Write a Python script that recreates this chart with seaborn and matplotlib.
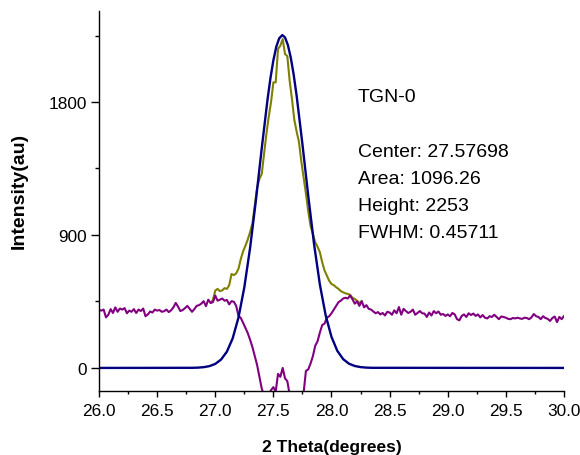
import numpy as np
import pandas as pd
import matplotlib
matplotlib.use("Agg")
import matplotlib.pyplot as plt
import seaborn as sns
from matplotlib.ticker import MultipleLocator

# residual / background trace (purple), sampled every 0.02 deg from 26.00 to 30.00
resid_vals = [
    392, 388, 395, 342, 360, 398, 372, 410, 380, 402,
    395, 405, 370, 388, 380, 398, 372, 395, 385, 402,
    350, 362, 382, 375, 395, 388, 392, 380, 384, 395,
    378, 390, 410, 440, 415, 385, 392, 405, 420, 400,
    380, 398, 420, 425, 435, 452, 418, 462, 440, 445,
    490, 455, 462, 470, 455, 460, 430, 452, 448, 420,
    352, 338, 305, 270, 235, 190, 140, 80, 20, -60,
    -140, -190, -200, -180, -150, -130, -160, -40, -60, 0,
    -70, -90, -180, -250, -300, -320, -300, -250, -170, -20,
    -10, 30, 80, 150, 180, 240, 290, 300, 340, 350,
    370, 395, 420, 445, 455, 470, 475, 470, 490, 465,
    435, 450, 420, 452, 410, 425, 400, 395, 382, 370,
    378, 362, 372, 355, 380, 375, 360, 390, 370, 412,
    360, 400, 385, 372, 380, 395, 360, 372, 385, 370,
    368, 345, 375, 355, 385, 370, 382, 360, 365, 352,
    362, 350, 372, 362, 330, 322, 352, 362, 345, 370,
    358, 368, 352, 362, 342, 358, 340, 335, 350, 345,
    360, 345, 330, 348, 345, 340, 332, 330, 338, 335,
    340, 335, 332, 340, 338, 330, 342, 365, 350, 345,
    330, 350, 338, 332, 318, 338, 348, 310, 345, 330,
    352,
]
resid_x = np.round(np.linspace(26.0, 30.0, len(resid_vals)), 2)

# measured data (olive), only where it differs from the purple trace
data_x = [
    26.96, 26.98, 27.00, 27.02, 27.04, 27.06, 27.08, 27.10, 27.12, 27.14,
    27.16, 27.18, 27.20, 27.22, 27.24, 27.26, 27.28, 27.30, 27.32, 27.34,
    27.36, 27.38, 27.40, 27.42, 27.44, 27.46, 27.48, 27.50, 27.52, 27.54,
    27.56, 27.58, 27.60, 27.62, 27.64, 27.66, 27.68, 27.70, 27.72, 27.74,
    27.76, 27.78, 27.80, 27.82, 27.84, 27.86, 27.88, 27.90, 27.92, 27.94,
    27.96, 27.98, 28.00, 28.02, 28.04, 28.06, 28.08, 28.10, 28.12, 28.14,
    28.16, 28.18, 28.20, 28.22, 28.24, 28.26,
]
data_vals = [
    440, 460, 523, 535, 520, 525, 540, 535, 560, 636,
    628, 640, 672, 738, 790, 828, 870, 920, 980, 1100,
    1220, 1280, 1313, 1450, 1584, 1700, 1800, 1933, 1933, 2159,
    2181, 2226, 2125, 2110, 1944, 1820, 1680, 1600, 1530, 1400,
    1290, 1180, 1060, 960, 907, 850, 820, 783, 715, 660,
    625, 590, 568, 560, 546, 535, 520, 512, 505, 501,
    495, 475, 467, 455, 440, 452,
]

# fitted peak (navy)
fit_x = [
    26.0, 26.80, 26.85, 26.90, 26.95, 27.00, 27.05, 27.10, 27.15, 27.20,
    27.25, 27.30, 27.35, 27.40, 27.45, 27.475, 27.50, 27.525, 27.55, 27.577,
    27.60, 27.625, 27.65, 27.675, 27.70, 27.75, 27.80, 27.85, 27.90, 27.95,
    28.00, 28.05, 28.10, 28.15, 28.20, 28.25, 28.30, 28.35, 30.0,
]
fit_vals = [
    0, 0.8, 2.0, 5.1, 12.2, 27.2, 56.6, 110, 200.5, 341.8,
    545.2, 814.0, 1137, 1487, 1819, 1962, 2082, 2174, 2231, 2253,
    2237, 2185, 2099, 1983, 1843, 1514, 1165, 838, 564, 355.7,
    209.8, 115.7, 59.8, 28.9, 13.1, 5.5, 2.2, 0.8, 0,
]

info_lines = ["TGN-0", "", "Center: 27.57698", "Area: 1096.26",
              "Height: 2253", "FWHM: 0.45711"]

sns.set_style("ticks")
plt.rcParams['font.family'] = ['Liberation Sans', 'DejaVu Sans']
plt.rcParams.update({"text.color": "black", "axes.labelcolor": "black",
                     "xtick.color": "black", "ytick.color": "black"})

fig = plt.figure(figsize=(5.8, 4.56), dpi=100)
ax = fig.add_axes([0.1707, 0.1404, 0.8017, 0.8333])

sns.lineplot(x=data_x, y=data_vals, ax=ax, color="#808000", lw=1.5)
sns.lineplot(x=resid_x, y=resid_vals, ax=ax, color="#800080", lw=1.5)
sns.lineplot(x=fit_x, y=fit_vals, ax=ax, color="#000080", lw=1.7)

ax.set_xlim(26.0, 30.0)
ax.set_ylim(-156, 2416)
ax.xaxis.set_major_locator(MultipleLocator(0.5))
ax.xaxis.set_minor_locator(MultipleLocator(0.25))
ax.yaxis.set_major_locator(MultipleLocator(900))
ax.yaxis.set_minor_locator(MultipleLocator(450))
ax.xaxis.set_major_formatter(matplotlib.ticker.FormatStrFormatter('%.1f'))

sns.despine(ax=ax)
for s in ["left", "bottom"]:
    ax.spines[s].set_linewidth(1.0)
    ax.spines[s].set_color("black")
ax.tick_params(axis="x", which="major", length=4, width=1, labelsize=12.4, pad=5)
ax.tick_params(axis="x", which="minor", length=2.5, width=1)
ax.tick_params(axis="y", which="major", length=6, width=1, labelsize=12.4, pad=3)
ax.tick_params(axis="y", which="minor", length=3, width=1)

ax.set_xlabel("2 Theta(degrees)", fontsize=12.5, fontweight="bold", labelpad=15)
ax.set_ylabel("Intensity(au)", fontsize=14, fontweight="bold")
ax.yaxis.set_label_coords(-0.153, 0.529)

y0 = 0.774
for i, line in enumerate(info_lines):
    if line:
        ax.text(0.557, y0 - i * 0.0715, line, transform=ax.transAxes,
                fontsize=14, va="center", ha="left")

fig.savefig("out.png", dpi=100)
